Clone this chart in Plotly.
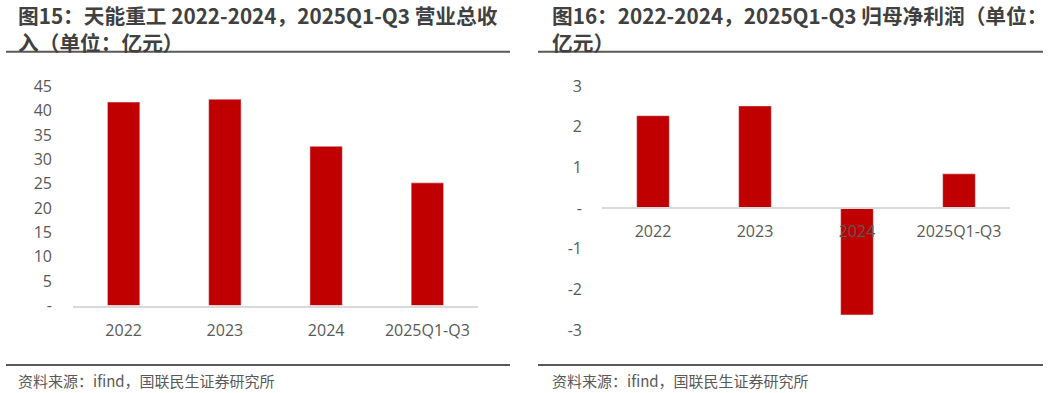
import plotly.graph_objects as go

categories = ["2022", "2023", "2024", "2025Q1-Q3"]
revenue = [41.8, 42.4, 32.7, 25.2]
net_profit = [2.27, 2.51, -2.63, 0.84]

rev_ticks = [0, 5, 10, 15, 20, 25, 30, 35, 40, 45]
np_ticks = [-3, -2, -1, 0, 1, 2, 3]

title_left = ["图15：天能重工 2022-2024，2025Q1-Q3 营业总收", "入（单位：亿元）"]
title_right = ["图16：2022-2024，2025Q1-Q3 归母净利润（单位：", "亿元）"]
source = "资料来源：ifind，国联民生证券研究所"

W, H = 1049, 393
BAR = "#C00000"
TXT = "#595959"
CJK = "Noto Sans CJK SC"
NUM = "Open Sans"


def lab(v):
    return "-" if v == 0 else str(v)


fig = go.Figure()
fig.add_trace(go.Bar(x=categories, y=revenue, marker_color=BAR, xaxis="x", yaxis="y",
                     width=0.32, hoverinfo="x+y"))
fig.add_trace(go.Bar(x=categories, y=net_profit, marker_color=BAR, xaxis="x2", yaxis="y2",
                     width=0.32, hoverinfo="x+y"))

ld = [73 / W, 478 / W]
rd = [602 / W, 1010 / W]
lyd = [(H - 305.5) / H, (H - 86.5) / H]
ryd = [(H - 330) / H, (H - 86) / H]
r_rng = [np_ticks[0], np_ticks[-1]]
zero_pos = ryd[0] + (0 - r_rng[0]) / (r_rng[1] - r_rng[0]) * (ryd[1] - ryd[0])

axfont = dict(family=NUM, size=16, color=TXT)

fig.update_layout(
    width=W, height=H, margin=dict(l=0, r=0, t=0, b=0, pad=0, autoexpand=False),
    paper_bgcolor="white", plot_bgcolor="white", showlegend=False,
    xaxis=dict(domain=ld, anchor="y", showline=True, linecolor="#D9D9D9", linewidth=1.5,
               showgrid=False, tickfont=axfont, ticklabelstandoff=10, fixedrange=True,
               automargin=False),
    yaxis=dict(domain=lyd, anchor="x", range=[rev_ticks[0], rev_ticks[-1]], tickvals=rev_ticks,
               ticktext=[lab(v) for v in rev_ticks], showgrid=False, zeroline=False,
               showline=False, tickfont=axfont, ticklabelstandoff=20, automargin=False),
    xaxis2=dict(domain=rd, anchor="free", position=zero_pos, showline=True, linecolor="#D9D9D9",
                linewidth=1.5, showgrid=False, tickfont=axfont, ticklabelstandoff=9,
                automargin=False),
    yaxis2=dict(domain=ryd, anchor="x2", range=r_rng, tickvals=np_ticks,
                ticktext=[lab(v) for v in np_ticks], showgrid=False, zeroline=False,
                showline=False, tickfont=axfont, ticklabelstandoff=19, automargin=False),
)

tfont = dict(family=CJK, size=20.7, color="#404040", weight="bold")
sfont = dict(family=CJK, size=15, color=TXT)
for x0, ttl in [(15.5 / W, title_left), (550 / W, title_right)]:
    fig.add_annotation(text="<b>" + "<br>".join(ttl) + "</b>", x=x0, y=1 - 28.5 / H,
                       xref="paper", yref="paper", xanchor="left", yanchor="middle",
                       showarrow=False, align="left", font=tfont)
    fig.add_annotation(text=source, x=x0, y=1 - 380 / H, xref="paper", yref="paper",
                       xanchor="left", yanchor="middle", showarrow=False, align="left",
                       font=sfont)

for a, b in [(6, 510), (538, 1043)]:
    for yy in (51.7, 365):
        fig.add_shape(type="line", xref="paper", yref="paper", x0=a / W, x1=b / W,
                      y0=1 - yy / H, y1=1 - yy / H, line=dict(color="#595959", width=2))

fig.write_html("out.html")
